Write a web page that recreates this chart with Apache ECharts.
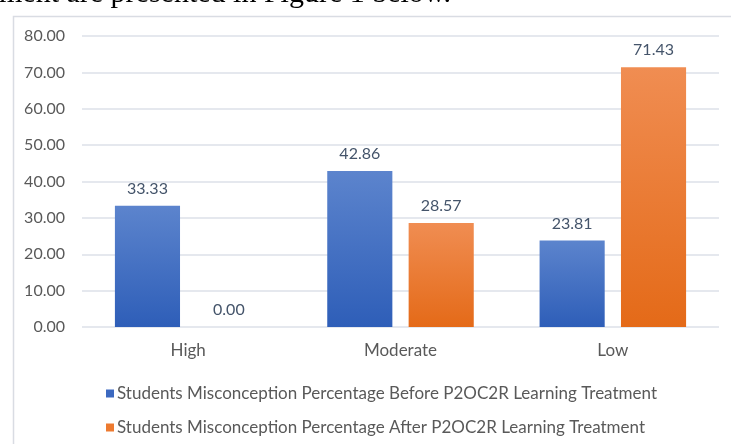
<!DOCTYPE html>
<html>
<head>
<meta charset="utf-8">
<script src="https://cdn.jsdelivr.net/npm/echarts@6/dist/echarts.min.js"></script>
<style>
html,body{margin:0;padding:0;background:#fff;overflow:hidden;}
#chart{width:731px;height:444px;}
</style>
</head>
<body>
<div id="chart"></div>
<script>
var categories = ['High', 'Moderate', 'Low'];
var seriesNames = [
  'Students Misconception Percentage Before P2OC2R Learning Treatment',
  'Students Misconception Percentage After P2OC2R Learning Treatment'
];
var beforeValues = [33.33, 42.86, 23.81];
var afterValues = [0.00, 28.57, 71.43];
var yTicks = [0, 10, 20, 30, 40, 50, 60, 70, 80];
var captionText = 'ment are presented in Figure 1 below.';

var chart = echarts.init(document.getElementById('chart'), null, {renderer: 'canvas'});
var font = 'Lato, "Open Sans", sans-serif';
var blueGrad = new echarts.graphic.LinearGradient(0, 0, 0, 1, [
  {offset: 0, color: '#5c84cd'}, {offset: 1, color: '#2e5eb8'}]);
var orangeGrad = new echarts.graphic.LinearGradient(0, 0, 0, 1, [
  {offset: 0, color: '#f08d52'}, {offset: 1, color: '#e46a18'}]);

chart.setOption({
  animation: false,
  graphic: [
    {type: 'rect', left: 11, top: 14, shape: {width: 760, height: 460},
      style: {fill: 'none', stroke: '#d9dce3', lineWidth: 1.5}, z: 0},
    {type: 'text', left: -1, top: -21,
      style: {text: captionText, font: '30px "Liberation Serif", "DejaVu Serif", serif', fill: '#000'}}
  ],
  grid: {left: 82, right: 12, top: 36, bottom: 117, containLabel: false},
  legend: {
    orient: 'vertical', left: 101, top: 380, itemGap: 17,
    itemWidth: 8, itemHeight: 8, icon: 'rect',
    textStyle: {color: '#595959', fontSize: 17, fontFamily: font, padding: [0, 0, 0, -2]},
    data: [
      {name: seriesNames[0], itemStyle: {color: '#3c69c0'}},
      {name: seriesNames[1], itemStyle: {color: '#ed7a30'}}
    ]
  },
  xAxis: {
    type: 'category', data: categories,
    axisLine: {show: false}, axisTick: {show: false},
    axisLabel: {color: '#595959', fontSize: 17, fontFamily: font, margin: 15}
  },
  yAxis: {
    type: 'value', min: yTicks[0], max: yTicks[yTicks.length - 1], interval: 10,
    axisLine: {show: false}, axisTick: {show: false},
    axisLabel: {color: '#595959', fontSize: 16, fontFamily: font, margin: 17,
      formatter: function (v) { return v.toFixed(2); }},
    splitLine: {lineStyle: {color: '#dde1e8', width: 1.5}}
  },
  series: [
    {name: seriesNames[0], type: 'bar', data: beforeValues,
      barGap: '25%', barCategoryGap: '31%',
      itemStyle: {color: blueGrad},
      label: {show: true, position: 'top', distance: 9, color: '#44546a', fontSize: 16, fontFamily: font,
        formatter: function (p) { return p.value.toFixed(2); }}},
    {name: seriesNames[1], type: 'bar', data: afterValues,
      itemStyle: {color: orangeGrad},
      label: {show: true, position: 'top', distance: 9, color: '#44546a', fontSize: 16, fontFamily: font,
        formatter: function (p) { return p.value.toFixed(2); }}}
  ]
});
</script>
</body>
</html>
